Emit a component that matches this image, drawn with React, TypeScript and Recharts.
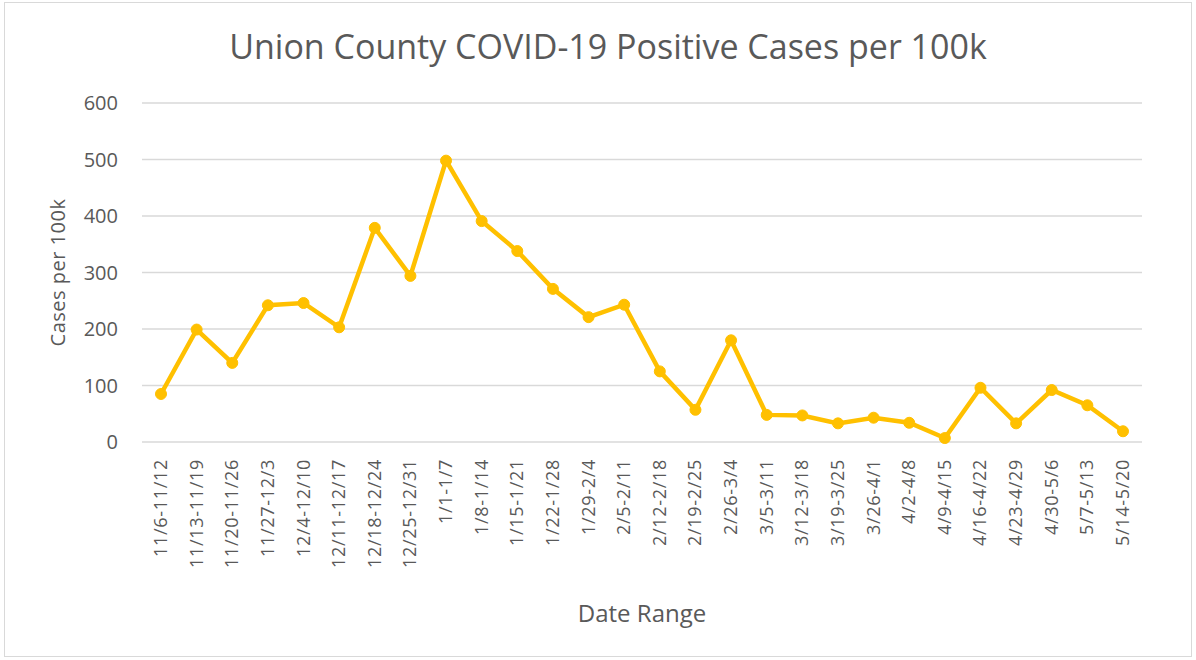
import { LineChart, Line, XAxis, YAxis, CartesianGrid, Label } from "recharts";

const weeks = [
  "11/6-11/12", "11/13-11/19", "11/20-11/26", "11/27-12/3", "12/4-12/10",
  "12/11-12/17", "12/18-12/24", "12/25-12/31", "1/1-1/7", "1/8-1/14",
  "1/15-1/21", "1/22-1/28", "1/29-2/4", "2/5-2/11", "2/12-2/18",
  "2/19-2/25", "2/26-3/4", "3/5-3/11", "3/12-3/18", "3/19-3/25",
  "3/26-4/1", "4/2-4/8", "4/9-4/15", "4/16-4/22", "4/23-4/29",
  "4/30-5/6", "5/7-5/13", "5/14-5/20",
];

const casesPer100k = [
  85, 199, 140, 242, 246, 203, 379, 294, 498, 391,
  338, 271, 221, 243, 125, 57, 180, 48, 47, 33,
  43, 34, 7, 96, 33, 92, 65, 19,
];

const yTicks = [0, 100, 200, 300, 400, 500, 600];

const data = weeks.map((week, i) => ({ week, cases: casesPer100k[i] }));

const FONT = "'Open Sans', sans-serif";
const GRAY = "#595959";

// rotated category labels, read bottom-to-top like the Excel original
const WeekTick = ({ x, y, payload }: any) => (
  <g transform={`translate(${x},${y})`}>
    <text
      transform="rotate(-90)"
      textAnchor="end"
      dy={6}
      x={-9}
      fontSize={18}
      letterSpacing={0.7}
      fontFamily={FONT}
      fill={GRAY}
    >
      {payload.value}
    </text>
  </g>
);

export default function App() {
  return (
    <div
      style={{
        position: "absolute",
        left: 0,
        top: 0,
        width: 1196,
        height: 660,
        background: "#fff",
        fontFamily: FONT,
      }}
    >
      <div
        style={{
          position: "absolute",
          left: 4,
          top: 2,
          width: 1188,
          height: 655,
          border: "1px solid #d9d9d9",
          boxSizing: "border-box",
        }}
      />
      <div
        style={{
          position: "absolute",
          left: 0,
          width: 1216,
          top: 22,
          textAlign: "center",
          fontSize: 34,
          lineHeight: "48px",
          color: GRAY,
        }}
      >
        Union County COVID-19 Positive Cases per 100k
      </div>
      <LineChart
        width={1196}
        height={660}
        data={data}
        margin={{ top: 103, right: 54, left: 82, bottom: 33 }}
        style={{ position: "absolute", left: 0, top: 0 }}
      >
        <CartesianGrid vertical={false} stroke="#d9d9d9" strokeWidth={1.5} />
        <XAxis
          dataKey="week"
          interval={0}
          height={185}
          padding={{ left: 19, right: 19 }}
          axisLine={false}
          tickLine={false}
          tick={<WeekTick />}
        >
          <Label
            value="Date Range"
            position="insideBottom"
            offset={5}
            fontSize={24}
            fontFamily={FONT}
            fill={GRAY}
          />
        </XAxis>
        <YAxis
          width={60}
          domain={[0, 600]}
          ticks={yTicks}
          axisLine={false}
          tickLine={false}
          tickMargin={18}
          tick={{ fontSize: 20, fontFamily: FONT, fill: GRAY }}
        >
          <Label
            value="Cases per 100k"
            angle={-90}
            position="insideLeft"
            offset={-24}
            fontSize={20}
            fontFamily={FONT}
            fill={GRAY}
            letterSpacing={0.5}
            style={{ textAnchor: "middle" }}
          />
        </YAxis>
        <Line
          type="linear"
          dataKey="cases"
          stroke="#FFC000"
          strokeWidth={4.5}
          dot={{ r: 5.5, fill: "#FFC000", stroke: "#FFC000", strokeWidth: 1 }}
          isAnimationActive={false}
        />
      </LineChart>
    </div>
  );
}
